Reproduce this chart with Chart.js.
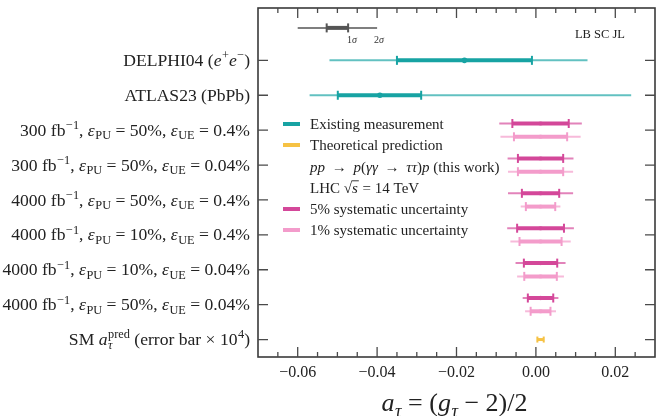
<!DOCTYPE html>
<html><head><meta charset="utf-8">
<script src="https://cdn.jsdelivr.net/npm/chart.js@4/dist/chart.umd.min.js"></script>
<style>html,body{margin:0;padding:0;background:#fff}#wrap{width:663px;height:416px}</style>
</head><body><div id="wrap"><canvas id="c" width="663" height="416"></canvas></div>
<script>
// ---------- data ----------
// category labels, index = row value on the y scale (0 = bottom)
const categories = [
  "SM *a*_{*τ*}^{pred} (error bar × 10^{4})",
  "4000 fb^{−1}, *ε*_{PU} = 50%, *ε*_{UE} = 0.04%",
  "4000 fb^{−1}, *ε*_{PU} = 10%, *ε*_{UE} = 0.04%",
  "4000 fb^{−1}, *ε*_{PU} = 10%, *ε*_{UE} = 0.4%",
  "4000 fb^{−1}, *ε*_{PU} = 50%, *ε*_{UE} = 0.4%",
  "300 fb^{−1}, *ε*_{PU} = 50%, *ε*_{UE} = 0.04%",
  "300 fb^{−1}, *ε*_{PU} = 50%, *ε*_{UE} = 0.4%",
  "ATLAS23 (PbPb)",
  "DELPHI04 (*e*^{+}*e*^{−})"
];
const xTickValues = [-0.06, -0.04, -0.02, 0.00, 0.02];
const xTickLabels = ["−0.06", "−0.04", "−0.02", "0.00", "0.02"];

// existing measurements
const existingRows    = [8, 7];
const existingCentral = [-0.018, -0.0393];
const existingLo1     = [-0.035, -0.0499];
const existingHi1     = [-0.001, -0.0289];
const existingLo2     = [-0.052, -0.057];
const existingHi2     = [0.013, 0.024];

// LHC projections (this work), centred on SM prediction
const lhcRows      = [6, 5, 4, 3, 2, 1];
const lhcCentral   = 0.00117;
const sys5Sigma1   = [0.0071, 0.0057, 0.0047, 0.0059, 0.0042, 0.0032];
const sys5Sigma2   = [0.0104, 0.0083, 0.0082, 0.0084, 0.0063, 0.0045];
const sys1Sigma1   = [0.0067, 0.0057, 0.0037, 0.0053, 0.0041, 0.0025];
const sys1Sigma2   = [0.0101, 0.0082, 0.0050, 0.0076, 0.0059, 0.0039];

// SM prediction
const smRow = 0, smCentral = 0.00117, smHalf = 0.0008;

// sigma key
const keyRow = 8.93, keyCentral = -0.05, keySigma1 = 0.0027, keySigma2 = 0.01;

const legendLabels = [
  "Existing measurement",
  "Theoretical prediction",
  "*pp* \u2009→\u2009 *p*(*γγ* \u2009→\u2009 *ττ*)*p* (this work)",
  "LHC \\sqrt{s} = 14 TeV",
  "5% systematic uncertainty",
  "1% systematic uncertainty"
];

// ---------- styles ----------
const TEAL = "#17a3a3", TEAL_T = "rgba(23,163,163,0.68)";
const DPINK = "#d4489a", DPINK_T = "rgba(212,72,154,0.68)";
const LPINK = "#f39ccb", LPINK_T = "rgba(243,156,203,0.7)";
const YEL = "#f6c244";
const GRAY = "#555555";
const FONT = '"Liberation Serif", "DejaVu Serif", serif';
const PU = 0.19; // vertical offset of the two systematic variants

// ---------- build datasets ----------
const datasets = [];
function addBar(c, y, lo1, hi1, lo2, hi2, thinCol, thickCol, dot, dotCol, thinW, thickW, capR) {
  if (lo2 !== null) {
    datasets.push({data:[{x:lo2,y},{x:hi2,y}], showLine:true, borderColor:thinCol,
      borderWidth:thinW, pointRadius:0});
  }
  datasets.push({data:[{x:lo1,y},{x:hi1,y}], showLine:true, borderColor:thickCol,
    borderWidth:thickW, pointStyle:'line', pointRotation:90, pointRadius:capR,
    pointBorderWidth:2, pointBorderColor:thickCol, pointBackgroundColor:thickCol});
  if (dot) {
    datasets.push({data:[{x:c,y}], showLine:false, pointStyle:'circle', pointRadius:dot,
      pointBorderWidth:0, pointBackgroundColor:dotCol});
  }
}
// key
addBar(keyCentral, keyRow, keyCentral-keySigma1, keyCentral+keySigma1,
       keyCentral-keySigma2, keyCentral+keySigma2, GRAY, GRAY, 0, null, 1.5, 4, 4.5);
existingRows.forEach((r,i)=>addBar(existingCentral[i], r, existingLo1[i], existingHi1[i],
   existingLo2[i], existingHi2[i], TEAL_T, TEAL, 2.8, TEAL, 2, 4, 4.5));
lhcRows.forEach((r,i)=>{
  addBar(lhcCentral, r+PU, lhcCentral-sys5Sigma1[i], lhcCentral+sys5Sigma1[i],
         lhcCentral-sys5Sigma2[i], lhcCentral+sys5Sigma2[i], DPINK_T, DPINK, 2.2, "rgba(200,60,140,0.5)", 2, 4, 4.5);
  addBar(lhcCentral, r-PU, lhcCentral-sys1Sigma1[i], lhcCentral+sys1Sigma1[i],
         lhcCentral-sys1Sigma2[i], lhcCentral+sys1Sigma2[i], LPINK_T, LPINK, 2.2, "rgba(236,140,192,0.5)", 2, 4, 4.5);
});
addBar(smCentral, smRow, smCentral-smHalf, smCentral+smHalf, null, null, YEL, YEL, 0, null, 2, 3, 3);

// ---------- rich text ----------
function parseRich(s) {
  const out = []; let i = 0, buf = '', it = false;
  const flush = () => { if (buf) { out.push({t:buf, k:'n', it}); buf=''; } };
  while (i < s.length) {
    const ch = s[i];
    if (ch === '\\' && s.startsWith('\\sqrt{', i)) {
      flush(); const end = s.indexOf('}', i);
      out.push({t:s.slice(i+6, end), k:'sqrt', it:true}); i = end+1; continue;
    }
    if (ch === '*') { flush(); it = !it; i++; continue; }
    if ((ch === '^' || ch === '_') && s[i+1] === '{') {
      flush(); const end = s.indexOf('}', i);
      let inner = s.slice(i+2, end), iit = false;
      if (inner.startsWith('*') && inner.endsWith('*')) { iit = true; inner = inner.slice(1,-1); }
      out.push({t:inner, k: ch === '^' ? 'sup' : 'sub', it:iit});
      i = end+1; continue;
    }
    buf += ch; i++;
  }
  flush();
  return out;
}
function fontFor(seg, size) {
  const sz = (seg.k === 'sup' || seg.k === 'sub') ? size*0.7 : size;
  return (seg.it ? 'italic ' : '') + sz.toFixed(2) + 'px ' + FONT;
}
function layoutRich(ctx, segs, size) {
  let x = 0, prevStart = 0, prevW = 0, prevK = null;
  const items = [];
  segs.forEach(seg => {
    if (seg.k === 'sqrt') {
      ctx.font = size + 'px ' + FONT;
      const wr = ctx.measureText('√').width;
      ctx.font = 'italic ' + size + 'px ' + FONT;
      const wi = ctx.measureText(seg.t).width;
      items.push({seg, x, w: wr + wi, wr, wi});
      x += wr + wi + 1; prevK = 'sqrt'; return;
    }
    ctx.font = fontFor(seg, size);
    const w = ctx.measureText(seg.t).width;
    if (seg.k === 'sup' && prevK === 'sub') {
      items.push({seg, x: prevStart, w});
      x = prevStart + Math.max(prevW, w);
      prevK = 'sup'; return;
    }
    const start = x + (seg.k === 'sub' || seg.k === 'sup' ? 0.5 : 0);
    items.push({seg, x: start, w});
    prevStart = start; prevW = w; prevK = seg.k;
    x = start + w;
  });
  return {items, width: x};
}
function drawRich(ctx, s, x, yc, size, align, color) {
  const segs = parseRich(s);
  const L = layoutRich(ctx, segs, size);
  let x0 = align === 'right' ? x - L.width : align === 'center' ? x - L.width/2 : x;
  const base = yc + 0.32*size;
  ctx.fillStyle = color || '#222';
  ctx.strokeStyle = color || '#222';
  ctx.textBaseline = 'alphabetic'; ctx.textAlign = 'left';
  L.items.forEach(it => {
    const seg = it.seg;
    if (seg.k === 'sqrt') {
      ctx.font = size + 'px ' + FONT;
      ctx.fillText('√', x0 + it.x, base);
      ctx.font = 'italic ' + size + 'px ' + FONT;
      ctx.fillText(seg.t, x0 + it.x + it.wr, base);
      ctx.lineWidth = 0.9;
      ctx.beginPath();
      const ly = base - 0.80*size;
      ctx.moveTo(x0 + it.x + it.wr - 0.5, ly); ctx.lineTo(x0 + it.x + it.wr + it.wi + 1, ly);
      ctx.stroke();
      return;
    }
    ctx.font = fontFor(seg, size);
    let dy = 0;
    if (seg.k === 'sup') dy = -0.38*size;
    if (seg.k === 'sub') dy = 0.2*size;
    ctx.fillText(seg.t, x0 + it.x, base + dy);
  });
}

// ---------- decorations plugin ----------
const deco = {
  id: 'deco',
  afterDatasetsDraw(chart) {
    const ctx = chart.ctx, a = chart.chartArea;
    const xs = chart.scales.x, ys = chart.scales.y;
    ctx.save();
    // border
    ctx.strokeStyle = '#3a3a3a'; ctx.lineWidth = 1.6;
    ctx.strokeRect(a.left, a.top, a.right - a.left, a.bottom - a.top);
    // x ticks (inward, bottom and top)
    ctx.strokeStyle = '#4a4a4a'; ctx.lineWidth = 1.3;
    for (let k = -14; k <= 6; k++) {
      const v = k * 0.005;
      const px = xs.getPixelForValue(v);
      if (px <= a.left + 1 || px >= a.right - 1) continue;
      const major = (k % 4 === 0);
      const len = major ? 10 : 5;
      ctx.beginPath();
      ctx.moveTo(px, a.bottom); ctx.lineTo(px, a.bottom - len);
      ctx.moveTo(px, a.top); ctx.lineTo(px, a.top + len);
      ctx.stroke();
    }
    // y ticks (inward, left and right)
    categories.forEach((c, i) => {
      const py = ys.getPixelForValue(i);
      ctx.beginPath();
      ctx.moveTo(a.left, py); ctx.lineTo(a.left + 10, py);
      ctx.moveTo(a.right, py); ctx.lineTo(a.right - 10, py);
      ctx.stroke();
    });
    // x tick labels
    ctx.fillStyle = '#222'; ctx.textAlign = 'center'; ctx.textBaseline = 'middle';
    ctx.font = '16px ' + FONT;
    xTickValues.forEach((v, i) => {
      ctx.fillText(xTickLabels[i], xs.getPixelForValue(v), a.bottom + 16);
    });
    // y category labels
    categories.forEach((c, i) => {
      drawRich(ctx, c, a.left - 8, ys.getPixelForValue(i), 17.6, 'right', '#222');
    });
    // axis title
    drawRich(ctx, "*a*_{*τ*} = (*g*_{*τ*} − 2)/2", (a.left + a.right)/2 - 2, a.bottom + 46, 26, 'center', '#222');
    // sigma key labels
    const ky = ys.getPixelForValue(keyRow) + 12;
    drawRich(ctx, "1*σ*", xs.getPixelForValue(keyCentral + keySigma1) - 1, ky, 10, 'left', '#333');
    drawRich(ctx, "2*σ*", xs.getPixelForValue(keyCentral + keySigma2) - 3, ky, 10, 'left', '#333');
    // authors
    ctx.font = '12.5px ' + FONT; ctx.textAlign = 'right'; ctx.textBaseline = 'middle'; ctx.fillStyle = '#222';
    ctx.fillText('LB SC JL', a.right - 30, ys.getPixelForValue(keyRow) + 7);
    // legend
    const legColors = [TEAL, YEL, null, null, DPINK, LPINK];
    const legY = [124, 145, 167, 188, 209, 230];
    legendLabels.forEach((t, i) => {
      const y = legY[i];
      if (legColors[i]) {
        ctx.strokeStyle = legColors[i]; ctx.lineWidth = 4;
        ctx.beginPath(); ctx.moveTo(a.left + 25, y); ctx.lineTo(a.left + 42, y); ctx.stroke();
      }
      drawRich(ctx, t, a.left + 52, y, 15, 'left', '#222');
    });
    ctx.restore();
  }
};

new Chart(document.getElementById('c'), {
  type: 'scatter',
  data: { datasets },
  options: {
    responsive: false, animation: false,
    layout: { padding: { left: 258, right: 8, top: 8, bottom: 59 } },
    plugins: { legend: { display: false }, tooltip: { enabled: false } },
    scales: {
      x: { type: 'linear', min: -0.07, max: 0.03, display: false },
      y: { type: 'linear', min: -0.5, max: 9.5, display: false }
    }
  },
  plugins: [deco]
});
</script></body></html>
